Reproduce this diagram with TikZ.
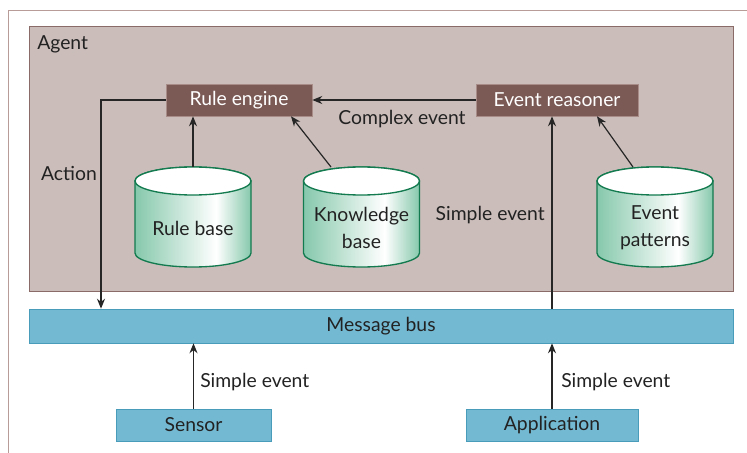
\documentclass[tikz,border=0pt]{standalone}
\usepackage{fontspec}
\setmainfont{Lato}
\usetikzlibrary{positioning, arrows.meta, calc}
\definecolor{AgentFill}{HTML}{CBBDBA}
\definecolor{AgentEdge}{HTML}{8B6B67}
\definecolor{EngineFill}{HTML}{7B5A56}
\definecolor{EngineEdge}{HTML}{A88C87}
\definecolor{CylGreen}{HTML}{86C8AC}
\definecolor{CylEdge}{HTML}{127A4E}
\definecolor{BusFill}{HTML}{74B9D2}
\definecolor{BusEdge}{HTML}{4A9CBB}
\definecolor{FrameLine}{HTML}{B89C98}
\definecolor{TextGray}{HTML}{222222}
\pgfdeclarehorizontalshading{cylshade}{100bp}{color(0bp)=(CylGreen); color(25bp)=(CylGreen); color(60bp)=(white); color(75bp)=(CylGreen); color(100bp)=(CylGreen)}

\tikzset{
  engine/.style={draw=EngineEdge, fill=EngineFill, text=white, minimum height=24pt, inner sep=0pt},
  busbox/.style={draw=BusEdge, fill=BusFill, text=TextGray, minimum height=24pt, inner sep=0pt},
  lbl/.style={text=TextGray, inner sep=0pt},
  arr/.style={-{Stealth[length=7.5pt, width=6pt]}, line width=0.9pt, black!85}
}

\begin{document}
\begin{tikzpicture}[x=0.75pt, y=-0.75pt, font=\fontsize{14.5}{20}\selectfont]
  \useasboundingbox (0,0) rectangle (747,453);

  % Rahmen
  \draw[FrameLine] (8,453) -- (8,10) -- (747,10);

  % Agent
  \draw[AgentEdge, fill=AgentFill] (29,26) rectangle (733,291);
  \node[lbl, anchor=west] (agent) at (37,44) {Agent};

  % Verarbeitung
  \node[engine, minimum width=109.5pt] (re) at (239,100) {Rule engine};
  \node[engine, minimum width=121.5pt] (er) at (557,100) {Event reasoner};

  % Datenbanken
  \foreach \cx/\nm/\txt in {193/rb/{Rule base}, 361.5/kb/{Knowledge\\base}, 655/ep/{Event\\patterns}} {
    \shade[shading=cylshade, draw=CylEdge, line width=1pt]
      (\cx-58,181) -- (\cx-58,253) arc[start angle=180, end angle=0, x radius=58, y radius=14]
      -- (\cx+58,181) arc[start angle=0, end angle=-180, x radius=58, y radius=14] -- cycle;
    \draw[CylEdge, line width=1pt, fill=white] (\cx,181) ellipse[x radius=58, y radius=14];
    \node[lbl, align=center] (\nm) at (\cx,228) {\txt};
  }
  \coordinate (rbtop) at (193,167);
  \coordinate (kbtop) at (331,167);
  \coordinate (eptop) at (633,167);

  % Bus und Quellen
  \node[busbox, minimum width=528pt, minimum height=25.5pt] (bus) at (381,326) {Message bus};
  \node[busbox, minimum width=116.25pt] (sensor) at (193.5,425) {Sensor};
  \node[busbox, minimum width=129pt] (app) at (552,425) {Application};

  % Pfeile
  \draw[arr] (rbtop) -- (rbtop |- re.south);
  \draw[arr] (kbtop) -- ([xshift=39pt]re.south);
  \draw[arr] (eptop) -- ([xshift=30pt]er.south);
  \draw[arr] (er.west) -- (re.east);
  \coordinate (actx) at (101,0);
  \draw[arr] (re.west) -| (bus.north -| actx);
  \draw[arr] (sensor.north) -- (sensor.north |- bus.south);
  \draw[arr] (app.north) -- (app.north |- bus.south);
  \draw[arr] (app.north |- bus.north) -- (app.north |- er.south);

  % Beschriftungen
  \node[lbl] (lblact) at (69,173) {Action};
  \node[lbl] (lblcx) at (402,119) {Complex event};
  \node[lbl, anchor=east] (lblse) at (545,215) {Simple event};
  \node[lbl, anchor=west] (lblsens) at (200,382) {Simple event};
  \node[lbl, anchor=west] (lblapp) at (561,382) {Simple event};
\end{tikzpicture}
\end{document}
